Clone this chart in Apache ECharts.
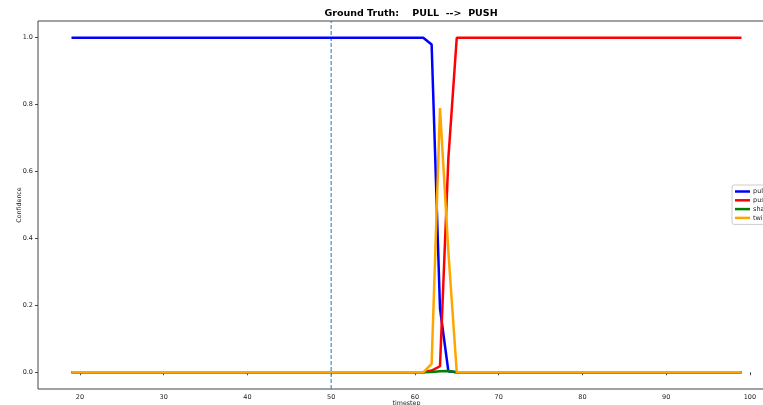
<!DOCTYPE html>
<html>
<head>
<meta charset="utf-8">
<script src="https://cdn.jsdelivr.net/npm/echarts@6/dist/echarts.min.js"></script>
<style>html,body{margin:0;padding:0;background:#fff;}#c{width:763px;height:405px;}</style>
</head>
<body>
<div id="c"></div>
<script>
const timesteps = [19,20,21,22,23,24,25,26,27,28,29,30,31,32,33,34,35,36,37,38,39,40,
  41,42,43,44,45,46,47,48,49,50,51,52,53,54,55,56,57,58,59,60,
  61,62,63,64,65,66,67,68,69,70,71,72,73,74,75,76,77,78,79,80,
  81,82,83,84,85,86,87,88,89,90,91,92,93,94,95,96,97,98,99];
const pull = [1,1,1,1,1,1,1,1,1,1,1,1,1,1,1,1,1,1,1,1,1,1,
  1,1,1,1,1,1,1,1,1,1,1,1,1,1,1,1,1,1,1,1,
  1,0.98,0.19,0.003,0,0,0,0,0,0,0,0,0,0,0,0,0,0,0,0,
  0,0,0,0,0,0,0,0,0,0,0,0,0,0,0,0,0,0,0];
const push = [0,0,0,0,0,0,0,0,0,0,0,0,0,0,0,0,0,0,0,0,0,0,
  0,0,0,0,0,0,0,0,0,0,0,0,0,0,0,0,0,0,0,0,
  0,0.005,0.018,0.64,1,1,1,1,1,1,1,1,1,1,1,1,1,1,1,1,
  1,1,1,1,1,1,1,1,1,1,1,1,1,1,1,1,1,1,1];
const shake = [0,0,0,0,0,0,0,0,0,0,0,0,0,0,0,0,0,0,0,0,0,0,
  0,0,0,0,0,0,0,0,0,0,0,0,0,0,0,0,0,0,0,0,
  0,0.001,0.003,0.004,0,0,0,0,0,0,0,0,0,0,0,0,0,0,0,0,
  0,0,0,0,0,0,0,0,0,0,0,0,0,0,0,0,0,0,0];
const twist = [0,0,0,0,0,0,0,0,0,0,0,0,0,0,0,0,0,0,0,0,0,0,
  0,0,0,0,0,0,0,0,0,0,0,0,0,0,0,0,0,0,0,0,
  0,0.025,0.79,0.36,0,0,0,0,0,0,0,0,0,0,0,0,0,0,0,0,
  0,0,0,0,0,0,0,0,0,0,0,0,0,0,0,0,0,0,0];
const xTicks = [20,30,40,50,60,70,80,90,100];
const yTicks = [0,0.2,0.4,0.6,0.8,1.0];
const xRange = [15, 103];
const yRange = [-0.05, 1.05];
const seriesNames = ['pull','push','shake','twist'];
const seriesColors = ['#0000ff','#ff0000','#008000','#ffa500'];
const seriesData = [pull, push, shake, twist];
const markX = 50;
const titleText = 'Ground Truth:    PULL  -->  PUSH';

const FONT = 'DejaVu Sans';
const chart = echarts.init(document.getElementById('c'), null, {renderer:'canvas'});
const series = [{
  name: 'divider', type: 'line', symbol: 'none', animation: false, silent: true,
  data: [[markX, yRange[0]], [markX, yRange[1]]],
  lineStyle: {color: '#1f77b4', type: [4, 2], width: 1},
  z: 1
}].concat(seriesNames.map((n, i) => ({
  name: n, type: 'line', symbol: 'none', animation: false,
  data: timesteps.map((t, k) => [t, seriesData[i][k]]),
  lineStyle: {color: seriesColors[i], width: 2.5},
  itemStyle: {color: seriesColors[i]},
  z: 2 + i
})));
chart.setOption({
  animation: false,
  backgroundColor: '#fff',
  title: {
    text: titleText, left: 406, top: 4, textAlign: 'center',
    textStyle: {fontFamily: FONT, fontWeight: 'bold', fontSize: 9.5, color: '#000'}
  },
  legend: {
    orient: 'vertical', left: 732, top: 185,
    data: seriesNames,
    icon: 'rect', itemWidth: 15, itemHeight: 2.5, itemGap: 1.8,
    padding: [3, 3, 3, 3],
    borderColor: '#cccccc', borderWidth: 1, borderRadius: 2,
    backgroundColor: '#ffffff',
    textStyle: {fontFamily: FONT, fontSize: 6.5, color: '#222', lineHeight: 7, padding: [0,0,0,-2]}
  },
  grid: {
    left: 38, top: 21, right: -12, bottom: 16,
    containLabel: false, outerBoundsMode: 'none',
    show: true, borderColor: '#444', borderWidth: 1, backgroundColor: 'transparent'
  },
  xAxis: {
    type: 'value', min: xRange[0], max: xRange[1],
    name: 'timestep', nameLocation: 'middle', nameGap: 11, nameMoveOverlap: false,
    nameTextStyle: {fontFamily: FONT, fontSize: 6.3, color: '#222'},
    axisLine: {show: false},
    splitLine: {show: false},
    axisTick: {show: true, length: 3, lineStyle: {color: '#444'}, customValues: xTicks},
    axisLabel: {fontFamily: FONT, fontSize: 6.5, color: '#222', margin: 5, customValues: xTicks}
  },
  yAxis: {
    type: 'value', min: yRange[0], max: yRange[1],
    name: 'Confidence', nameLocation: 'middle', nameRotate: 90, nameGap: 16, nameMoveOverlap: false,
    nameTextStyle: {fontFamily: FONT, fontSize: 6.3, color: '#222'},
    axisLine: {show: false},
    splitLine: {show: false},
    axisTick: {show: true, length: 3, lineStyle: {color: '#444'}, customValues: yTicks},
    axisLabel: {fontFamily: FONT, fontSize: 6.5, color: '#222', margin: 5, customValues: yTicks,
      formatter: v => v.toFixed(1)}
  },
  series: series
});
</script>
</body>
</html>
